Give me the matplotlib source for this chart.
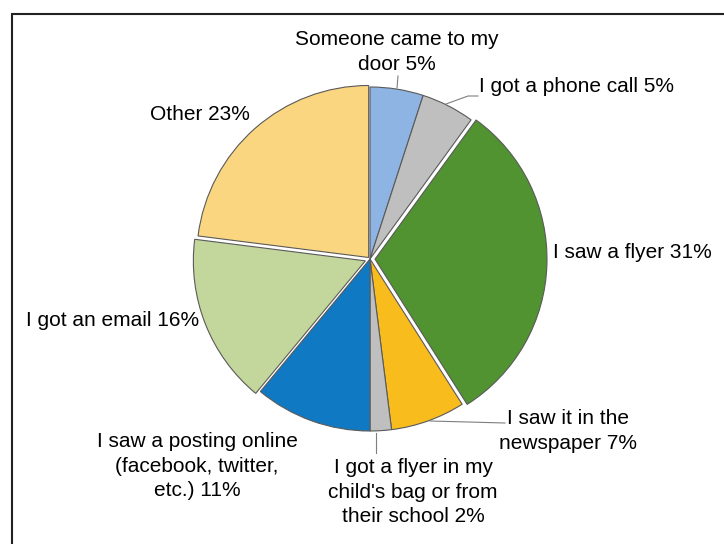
import matplotlib.pyplot as plt
from matplotlib.patches import Rectangle

plt.rcParams['font.family'] = ['Liberation Sans', 'DejaVu Sans']

labels = ["Someone came to my\ndoor 5%", "I got a phone call 5%", "I saw a flyer 31%",
          "I saw it in the\nnewspaper 7%", "I got a flyer in my\nchild's bag or from\ntheir school 2%",
          "I saw a posting online\n(facebook, twitter,\netc.) 11%", "I got an email 16%", "Other 23%"]
values = [5, 5, 31, 7, 2, 11, 16, 23]
colors = ['#8DB4E2', '#BFBFBF', '#509330', '#F9BC1D', '#BFBFBF', '#1079C3', '#C3D69B', '#FBD680']
explode = [0, 0, 5, 0, 0, 0, 5, 2]

W, H = 724, 544
fig = plt.figure(figsize=(W / 100, H / 100), dpi=100)
ax = fig.add_axes([0, 0, 1, 1])

# pie drawn in pixel coordinates (y flipped, so go counterclock to look clockwise)
ax.pie(values, colors=colors, explode=explode, startangle=-90, counterclock=True,
       center=(370, 259), radius=172, frame=True,
       wedgeprops=dict(edgecolor='#5a5a5a', linewidth=0.8))
ax.set_xlim(0, W)
ax.set_ylim(H, 0)
ax.set_aspect('equal')
ax.axis('off')

fs = 15
ls = 1.38
ax.text(397, 52, labels[0], ha='center', va='center', fontsize=fs, linespacing=ls)
ax.text(479, 87, labels[1], ha='left', va='center', fontsize=fs)
ax.text(553, 253, labels[2], ha='left', va='center', fontsize=fs)
ax.text(568, 431, labels[3], ha='center', va='center', fontsize=fs, linespacing=ls)
ax.text(413, 492, labels[4], ha='center', va='center', fontsize=fs, linespacing=ls)
ax.text(197, 466, labels[5], ha='center', va='center', fontsize=fs, linespacing=ls)
ax.text(199, 320, labels[6], ha='right', va='center', fontsize=fs)
ax.text(250, 115, labels[7], ha='right', va='center', fontsize=fs)

# leader lines
lc = '#7f7f7f'
ax.plot([398, 397], [76, 88], color=lc, lw=0.8)
ax.plot([446, 468, 478], [104, 96, 96], color=lc, lw=0.8)
ax.plot([430, 505], [421, 423], color=lc, lw=0.8)
ax.plot([376, 376], [433, 453], color=lc, lw=0.8)

# outer frame (right/bottom edges cut off)
fig.patches.append(Rectangle((12 / W, -0.1), 1.2, (H - 14) / H + 0.1, transform=fig.transFigure,
                             fill=False, edgecolor='#222222', linewidth=1.5))

fig.savefig('out.png', dpi=100)
